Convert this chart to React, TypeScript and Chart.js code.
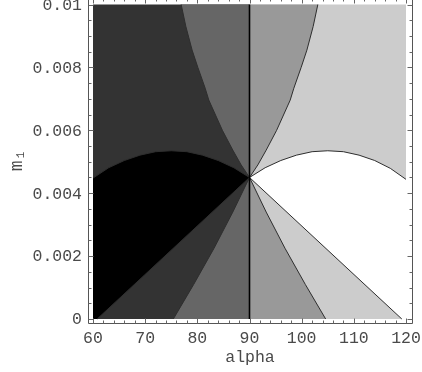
import React, { useEffect, useRef } from 'react';
import { Chart, registerables } from 'chart.js';

Chart.register(...registerables);

// ---- axes ----
const xTickValues = [60, 70, 80, 90, 100, 110, 120];
const xTickLabels = ['60', '70', '80', '90', '100', '110', '120'];
const xMinorTicks = [62, 64, 66, 68, 72, 74, 76, 78, 82, 84, 86, 88, 92, 94, 96, 98, 102, 104, 106, 108, 112, 114, 116, 118];
const yTickValues = [0, 0.002, 0.004, 0.006, 0.008, 0.01];
const yTickLabels = ['0', '0.002', '0.004', '0.006', '0.008', '0.01'];
const yMinorTicks = [0.0005, 0.001, 0.0015, 0.0025, 0.003, 0.0035, 0.0045, 0.005, 0.0055, 0.0065, 0.007, 0.0075, 0.0085, 0.009, 0.0095];
const xTitle = 'alpha';
const yTitle = 'm\u2081';

// plot range
const alphaMin = 60;
const alphaMid = 90;
const alphaMax = 120;
const mMin = 0;
const mMax = 0.01;

// ---- region boundaries ----
const blackArchAlpha = [60, 63, 66, 69, 72, 75, 78, 81, 84, 87, 90];
const blackArchM = [0.00448, 0.00481, 0.00504, 0.00521, 0.00532, 0.00535, 0.00532, 0.00521, 0.00504, 0.00481, 0.0045];
const whiteArchAlpha = [90, 93, 96, 99, 102, 105, 108, 111, 114, 117, 120];
const whiteArchM = [0.0045, 0.00481, 0.00504, 0.00521, 0.00532, 0.00535, 0.00532, 0.00521, 0.00504, 0.00479, 0.00444];

const upperLeftAlpha = [90, 88.4, 86.8, 84.8, 82.2, 81.5, 80.1, 79.0, 77.8, 76.9];
const upperLeftM = [0.0045, 0.0049, 0.00537, 0.006, 0.00696, 0.00734, 0.008, 0.00855, 0.0093, 0.01];
const upperRightAlpha = [90, 91.6, 93.2, 95.2, 97.8, 98.5, 99.9, 101.0, 102.2, 103.1];
const upperRightM = [0.0045, 0.0049, 0.00537, 0.006, 0.00696, 0.00734, 0.008, 0.00855, 0.0093, 0.01];

const lowerInnerLeftAlpha = [90, 86.8, 83.2, 79.3, 75.4];
const lowerInnerLeftM = [0.0045, 0.0034, 0.00225, 0.0011, 0];
const lowerInnerRightAlpha = [90, 93.2, 96.8, 100.7, 104.6];
const lowerInnerRightM = [0.0045, 0.0034, 0.00225, 0.0011, 0];

const lowerOuterLeftAlpha = [90, 60.8];
const lowerOuterLeftM = [0.0045, 0];
const lowerOuterRightAlpha = [90, 119.2];
const lowerOuterRightM = [0.0045, 0];

const pts = (a: number[], m: number[]) => a.map((v, i) => ({ x: v, y: m[i] }));

const FONT = "'Liberation Mono', 'Courier New', monospace";
const TEXT = '#4a4a4a';

const framePlugin = {
  id: 'frameTicks',
  afterDraw(chart: any) {
    const { ctx, chartArea: a, scales } = chart;
    const x = scales.x;
    const y = scales.y;
    ctx.save();
    ctx.strokeStyle = '#555';
    ctx.lineWidth = 1;
    const L = a.left + 0.5, R = a.right + 0.5, T = a.top + 0.5, B = a.bottom + 0.5;
    ctx.beginPath();
    ctx.moveTo(L, T); ctx.lineTo(R, T); ctx.lineTo(R, B); ctx.lineTo(L, B); ctx.closePath();
    ctx.stroke();
    ctx.strokeStyle = '#666';
    const xt = (v: number, len: number) => {
      const p = Math.round(x.getPixelForValue(v)) + 0.5;
      ctx.moveTo(p, B); ctx.lineTo(p, B - len);
      ctx.moveTo(p, T); ctx.lineTo(p, T + len);
    };
    const yt = (v: number, len: number) => {
      const p = Math.round(y.getPixelForValue(v)) + 0.5;
      ctx.moveTo(L, p); ctx.lineTo(L + len, p);
      ctx.moveTo(R, p); ctx.lineTo(R - len, p);
    };
    ctx.beginPath();
    xTickValues.forEach((v) => xt(v, 5));
    xMinorTicks.forEach((v) => xt(v, 3));
    yTickValues.forEach((v) => yt(v, 5));
    yMinorTicks.forEach((v) => yt(v, 3));
    ctx.stroke();
    ctx.restore();
  },
};

function poly(data: any[], color: string) {
  return {
    data,
    showLine: true,
    fill: 'shape',
    backgroundColor: color,
    borderColor: 'rgba(0,0,0,0)',
    borderWidth: 0,
    pointRadius: 0,
    tension: 0,
  };
}

function stroke(data: any[], color: string, width: number) {
  return {
    data,
    showLine: true,
    fill: false,
    backgroundColor: 'rgba(0,0,0,0)',
    borderColor: color,
    borderWidth: width,
    pointRadius: 0,
    tension: 0,
  };
}

export default function App() {
  const ref = useRef<HTMLCanvasElement | null>(null);

  useEffect(() => {
    if (!ref.current) return;
    const lineColor = '#2e2e2e';
    // painting order: first = bottom
    const paint = [
      poly([{ x: alphaMin, y: mMin }, { x: alphaMid, y: mMin }, { x: alphaMid, y: mMax }, { x: alphaMin, y: mMax }], '#333333'),
      poly([...pts(upperLeftAlpha, upperLeftM), { x: alphaMid, y: mMax }], '#666666'),
      poly([...pts(lowerInnerLeftAlpha, lowerInnerLeftM), { x: alphaMid, y: mMin }], '#666666'),
      poly([...pts(blackArchAlpha, blackArchM), ...pts(lowerOuterLeftAlpha, lowerOuterLeftM).slice(1), { x: alphaMin, y: mMin }], '#000000'),
      poly([{ x: alphaMid, y: mMin }, { x: alphaMax, y: mMin }, { x: alphaMax, y: mMax }, { x: alphaMid, y: mMax }], '#cccccc'),
      poly([...pts(upperRightAlpha, upperRightM), { x: alphaMid, y: mMax }], '#999999'),
      poly([...pts(lowerInnerRightAlpha, lowerInnerRightM), { x: alphaMid, y: mMin }], '#999999'),
      poly([...pts(whiteArchAlpha, whiteArchM), { x: alphaMax, y: mMin }, ...pts(lowerOuterRightAlpha, lowerOuterRightM).reverse()], '#ffffff'),
      stroke(pts(blackArchAlpha, blackArchM), lineColor, 1),
      stroke(pts(whiteArchAlpha, whiteArchM), lineColor, 1),
      stroke(pts(upperLeftAlpha, upperLeftM), lineColor, 1),
      stroke(pts(upperRightAlpha, upperRightM), lineColor, 1),
      stroke(pts(lowerInnerLeftAlpha, lowerInnerLeftM), lineColor, 1),
      stroke(pts(lowerInnerRightAlpha, lowerInnerRightM), lineColor, 1),
      stroke(pts(lowerOuterLeftAlpha, lowerOuterLeftM), lineColor, 1),
      stroke(pts(lowerOuterRightAlpha, lowerOuterRightM), lineColor, 1),
      stroke([{ x: alphaMid, y: mMin }, { x: alphaMid, y: mMax }], '#000000', 1.6),
    ];
    const datasets = paint.slice().reverse();

    const chart = new Chart(ref.current, {
      type: 'scatter',
      data: { datasets: datasets as any },
      options: {
        animation: false,
        responsive: false,
        maintainAspectRatio: false,
        events: [],
        layout: { padding: { left: 0, right: 10, top: 8, bottom: 0 } },
        plugins: { legend: { display: false }, tooltip: { enabled: false } },
        scales: {
          x: {
            type: 'linear',
            min: 59.04,
            max: 121.15,
            afterBuildTicks: (s: any) => { s.ticks = xTickValues.map((v) => ({ value: v })); },
            afterFit: (s: any) => { s.height = 49; s.paddingLeft = 0; s.paddingRight = 0; },
            grid: { display: false, drawTicks: false },
            border: { display: false },
            ticks: {
              autoSkip: false,
              maxRotation: 0,
              padding: 6,
              color: TEXT,
              font: { family: FONT, size: 16.5 },
              callback: (_v: any, i: number) => xTickLabels[i],
            },
            title: {
              display: true,
              text: xTitle,
              color: TEXT,
              font: { family: FONT, size: 16.5 },
              padding: { top: 0, bottom: 4 },
            },
          },
          y: {
            type: 'linear',
            min: -0.000127,
            max: 0.010207,
            afterBuildTicks: (s: any) => { s.ticks = yTickValues.map((v) => ({ value: v })); },
            afterFit: (s: any) => { s.width = 88; s.paddingTop = 0; s.paddingBottom = 0; },
            grid: { display: false, drawTicks: false },
            border: { display: false },
            ticks: {
              autoSkip: false,
              padding: 6,
              labelOffset: 1,
              color: TEXT,
              font: { family: FONT, size: 16.5 },
              callback: (_v: any, i: number) => yTickLabels[i],
            },
            title: {
              display: true,
              text: yTitle,
              color: TEXT,
              font: { family: FONT, size: 18 },
              padding: { top: 6, bottom: 0 },
            },
          },
        },
      } as any,
      plugins: [framePlugin],
    });
    return () => chart.destroy();
  }, []);

  return (
    <div style={{ position: 'absolute', left: 0, top: -10, width: 422, height: 382 }}>
      <canvas ref={ref} width={422} height={382} style={{ display: 'block', width: 422, height: 382 }} />
    </div>
  );
}
